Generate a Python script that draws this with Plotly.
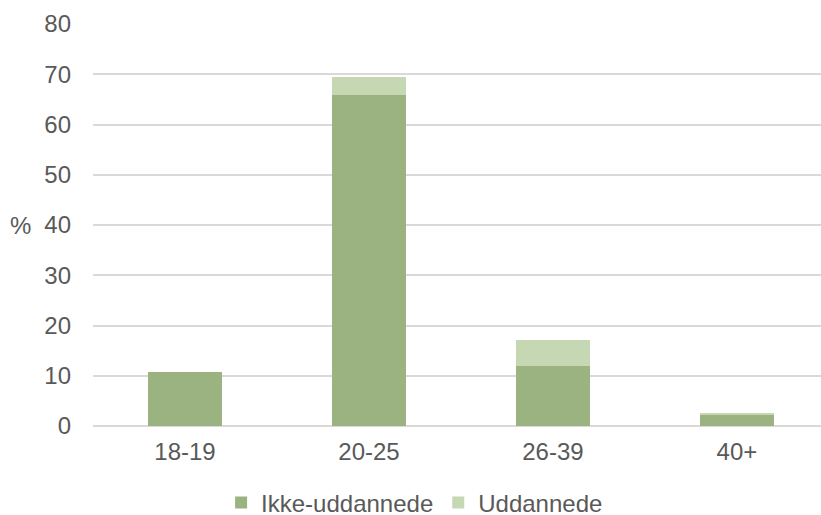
import plotly.graph_objects as go

categories = ["18-19", "20-25", "26-39", "40+"]
ikke_uddannede = [10.7, 65.9, 11.9, 2.2]
uddannede = [0.0, 3.5, 5.2, 0.4]
y_ticks = [0, 10, 20, 30, 40, 50, 60, 70, 80]

font_family = "Liberation Sans, Arial, sans-serif"
text_color = "#595959"

fig = go.Figure()
fig.add_trace(go.Bar(x=categories, y=ikke_uddannede, name="Ikke-uddannede",
                     marker=dict(color="#9bb380", line=dict(width=0))))
fig.add_trace(go.Bar(x=categories, y=uddannede, name="Uddannede",
                     marker=dict(color="#c6d8b3", line=dict(width=0))))

fig.update_layout(
    width=821, height=515,
    barmode="stack", bargap=0.6,
    plot_bgcolor="white", paper_bgcolor="white",
    margin=dict(l=93, r=0, t=23.5, b=89, pad=0),
    font=dict(family=font_family, size=24, color=text_color),
    showlegend=True,
    legend=dict(orientation="h", xref="container", yref="container",
                x=0.505, xanchor="center", y=12 / 515, yanchor="middle",
                font=dict(size=24, color=text_color),
                itemwidth=30, traceorder="normal"),
    xaxis=dict(range=[-0.5, 3.457], showgrid=False, showline=False,
               ticks="", ticklabelstandoff=9, zeroline=False),
    yaxis=dict(range=[0, 80], tickvals=y_ticks, showgrid=True,
               gridcolor="#d9d9d9", gridwidth=1.5, zeroline=True,
               zerolinecolor="#d9d9d9", zerolinewidth=1.5,
               ticks="", ticklabelstandoff=21, showline=False),
    annotations=[dict(text="%", xref="paper", yref="y",
                      x=(33 - 93) / 728, y=40, xanchor="right",
                      yanchor="middle", showarrow=False,
                      font=dict(size=24, color=text_color))],
)

fig.write_html(
    "out.html",
    config={"displayModeBar": False},
    post_script="document.body.style.margin='0';document.body.style.overflow='hidden';",
)
